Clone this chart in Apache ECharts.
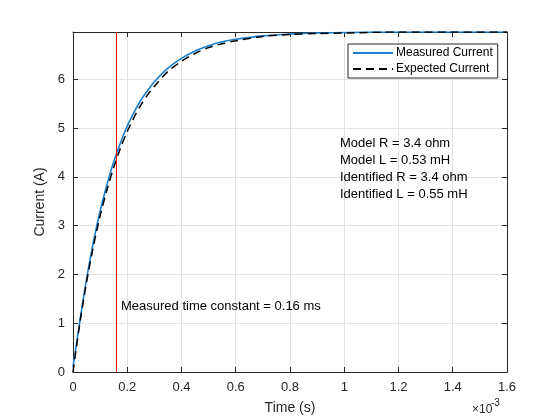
<!DOCTYPE html>
<html>
<head>
<meta charset="utf-8">
<script src="https://cdn.jsdelivr.net/npm/echarts@6/dist/echarts.min.js"></script>
<style>html,body{margin:0;padding:0;background:#fff;}#c{width:560px;height:420px;}</style>
</head>
<body>
<div id="c"></div>
<script>
// time in milliseconds (axis shows x10^-3 s)
const timeMs = [0, 0.025, 0.05, 0.075, 0.1, 0.125, 0.15, 0.175, 0.2, 0.225, 0.25, 0.275, 0.3, 0.35, 0.4, 0.45, 0.5, 0.55, 0.6, 0.7, 0.8, 0.9, 1.0, 1.2, 1.4, 1.6];
const measuredCurrent = [0.10, 1.03, 1.91, 2.66, 3.30, 3.84, 4.31, 4.70, 5.04, 5.32, 5.57, 5.77, 5.95, 6.23, 6.43, 6.58, 6.69, 6.77, 6.82, 6.89, 6.93, 6.95, 6.96, 6.97, 6.97, 6.97];
const expectedCurrent = [0.00, 0.99, 1.84, 2.57, 3.20, 3.73, 4.19, 4.59, 4.93, 5.22, 5.47, 5.68, 5.86, 6.16, 6.37, 6.53, 6.65, 6.73, 6.79, 6.88, 6.92, 6.94, 6.95, 6.97, 6.97, 6.97];
const timeConstantMs = 0.16;
const yMax = 6.97;
const xTicks = [0, 0.2, 0.4, 0.6, 0.8, 1, 1.2, 1.4, 1.6];
const yTicks = [0, 1, 2, 3, 4, 5, 6];
const modelText = ['Model R = 3.4 ohm', 'Model L = 0.53 mH', 'Identified R = 3.4 ohm', 'Identified L = 0.55 mH'];

const FONT = '"Liberation Sans", Arial, Helvetica, sans-serif';
const AX = '#262626';

const chart = echarts.init(document.getElementById('c'), null, {renderer: 'canvas'});
const measuredData = timeMs.map((t, i) => [t, measuredCurrent[i]]);
const expectedData = timeMs.map((t, i) => [t, expectedCurrent[i]]);

const baseX = {
  type: 'value', min: 0, max: 1.6, interval: 0.2,
  axisLine: {show: true, onZero: false, lineStyle: {color: AX, width: 1}},
  axisTick: {show: true, inside: true, length: 5, lineStyle: {color: AX}},
};
const baseY = {
  type: 'value', min: 0, max: yMax, interval: 1,
  axisLine: {show: true, onZero: false, lineStyle: {color: AX, width: 1}},
  axisTick: {show: true, inside: true, length: 5, lineStyle: {color: AX}},
};

chart.setOption({
  animation: false,
  backgroundColor: '#fff',
  grid: {left: 73, right: 53, top: 32, bottom: 47, containLabel: false},
  xAxis: [
    Object.assign({}, baseX, {
      position: 'bottom',
      name: 'Time (s)', nameLocation: 'middle', nameGap: 29,
      nameTextStyle: {fontFamily: FONT, fontSize: 14, color: AX},
      axisLabel: {fontFamily: FONT, fontSize: 13, color: AX, margin: 9,
        formatter: v => xTicks.some(t => Math.abs(t - v) < 1e-9) ? String(+v.toFixed(1)) : ''},
      splitLine: {show: true, lineStyle: {color: '#e3e3e3', width: 1}}
    }),
    Object.assign({}, baseX, {
      position: 'top',
      axisLabel: {show: false}, splitLine: {show: false}
    })
  ],
  yAxis: [
    Object.assign({}, baseY, {
      position: 'left',
      name: 'Current (A)', nameLocation: 'middle', nameGap: 19, nameRotate: 90,
      nameTextStyle: {fontFamily: FONT, fontSize: 14, color: AX},
      axisLabel: {fontFamily: FONT, fontSize: 13, color: AX, margin: 8,
        showMaxLabel: false,
        formatter: v => yTicks.indexOf(v) >= 0 ? String(v) : ''},
      splitLine: {show: true, lineStyle: {color: '#e3e3e3', width: 1}}
    }),
    Object.assign({}, baseY, {
      position: 'right',
      axisLabel: {show: false}, splitLine: {show: false}
    })
  ],
  legend: {
    orient: 'vertical', left: 348, top: 44,
    itemWidth: 40, itemHeight: 12, itemGap: 4,
    padding: [3, 5, 3, 4],
    borderColor: AX, borderWidth: 1, backgroundColor: '#fff',
    itemStyle: {opacity: 0},
    textStyle: {fontFamily: FONT, fontSize: 12, color: '#000', padding: [0, 0, 0, -2]},
    data: ['Measured Current', 'Expected Current']
  },
  series: [
    {
      name: 'Measured Current', type: 'line', data: measuredData,
      xAxisIndex: 0, yAxisIndex: 0,
      symbol: 'none', smooth: 0.3,
      lineStyle: {color: '#1a7fcc', width: 1.6},
      itemStyle: {color: '#1a7fcc'},
      markLine: {
        silent: true, symbol: ['none', 'none'], label: {show: false},
        lineStyle: {color: '#ff0000', width: 1, type: 'solid'},
        data: [{xAxis: timeConstantMs}]
      },
      z: 3
    },
    {
      name: 'Expected Current', type: 'line', data: expectedData,
      xAxisIndex: 0, yAxisIndex: 0,
      symbol: 'none', smooth: 0.3,
      lineStyle: {color: '#000000', width: 1.5, type: [8, 5]},
      itemStyle: {color: '#000000'},
      z: 4
    }
  ],
  graphic: [
    {type: 'text', left: 121, top: 300, silent: true, z: 100,
     style: {text: 'Measured time constant = ' + timeConstantMs + ' ms', font: '13px ' + FONT, fill: '#000'}},
    {type: 'text', left: 340, top: 135, silent: true, z: 100,
     style: {text: modelText.join('\n'), font: '13px ' + FONT, fill: '#000', lineHeight: 17}},
    {type: 'text', left: 472, top: 404, silent: true, z: 100,
     style: {text: '\u00d710', font: '12px ' + FONT, fill: AX}},
    {type: 'text', left: 491, top: 398, silent: true, z: 100,
     style: {text: '-3', font: '10px ' + FONT, fill: AX}}
  ]
});
</script>
</body>
</html>
